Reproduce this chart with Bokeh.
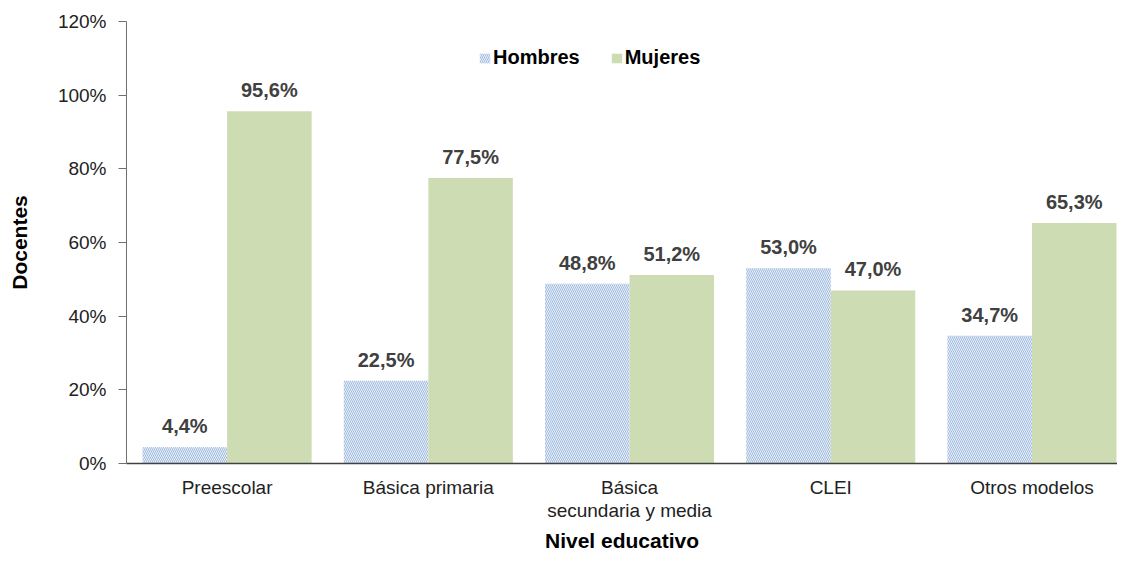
from bokeh.plotting import figure
from bokeh.models import ColumnDataSource, FixedTicker, Legend, LegendItem, Range1d, LabelSet
from bokeh.core.properties import value
from bokeh.embed import file_html
from bokeh.resources import INLINE

categorias = ["Preescolar", "Básica primaria", "Básica\nsecundaria y media", "CLEI", "Otros modelos"]
hombres = [4.4, 22.5, 48.8, 53.0, 34.7]
mujeres = [95.6, 77.5, 51.2, 47.0, 65.3]
y_ticks = [0, 20, 40, 60, 80, 100, 120]

FONT = "Liberation Sans"
BAR_W = 0.42

xs = list(range(len(categorias)))
src_h = ColumnDataSource(dict(x=[i - BAR_W / 2 for i in xs], top=hombres,
                              lab=[f"{v:.1f}%".replace(".", ",") for v in hombres]))
src_m = ColumnDataSource(dict(x=[i + BAR_W / 2 for i in xs], top=mujeres,
                              lab=[f"{v:.1f}%".replace(".", ",") for v in mujeres]))

p = figure(width=1117, height=557, output_backend="svg", toolbar_location=None,
           x_range=Range1d(-0.5, 4.425), y_range=Range1d(0, 120),
           min_border_left=126, min_border_right=0, min_border_top=21, min_border_bottom=94)
p.outline_line_color = None
p.xgrid.grid_line_color = None
p.ygrid.grid_line_color = None

rh = p.vbar(x="x", top="top", width=BAR_W, source=src_h,
            fill_color="#e8eff9", line_color=None,
            hatch_pattern="\\", hatch_color="#a2bbe0", hatch_scale=4, hatch_weight=1)
rm = p.vbar(x="x", top="top", width=BAR_W, source=src_m,
            fill_color="#cddcb2", line_color=None)

for src in (src_h, src_m):
    p.add_layout(LabelSet(x="x", y="top", text="lab", source=src,
                          text_align="center", text_baseline="bottom", y_offset=10,
                          text_font=value(FONT), text_font_style="bold",
                          text_font_size="20px", text_color="#404040"))

# y axis
p.yaxis.ticker = FixedTicker(ticks=y_ticks)
p.yaxis.major_label_overrides = {t: f"{t}%" for t in y_ticks}
p.yaxis.minor_tick_line_color = None
p.yaxis.major_tick_in = 0
p.yaxis.major_tick_out = 8
p.yaxis.major_label_standoff = 12
p.yaxis.axis_line_color = "#707070"
p.yaxis.major_tick_line_color = "#707070"
p.yaxis.major_label_text_font = FONT
p.yaxis.major_label_text_font_size = "19px"
p.yaxis.major_label_text_color = "#222222"
p.yaxis.axis_label = "Docentes"
p.yaxis.axis_label_text_font = FONT
p.yaxis.axis_label_text_font_style = "bold"
p.yaxis.axis_label_text_font_size = "21px"
p.yaxis.axis_label_text_color = "#000000"
p.yaxis.axis_label_standoff = 24

# x axis
p.xaxis.ticker = FixedTicker(ticks=xs)
p.xaxis.major_label_overrides = {i: c for i, c in zip(xs, categorias)}
p.xaxis.minor_tick_line_color = None
p.xaxis.major_tick_line_color = None
p.xaxis.major_tick_in = 0
p.xaxis.major_tick_out = 0
p.xaxis.major_label_standoff = 13
p.xaxis.axis_line_color = "#404040"
p.xaxis.axis_line_width = 1.5
p.xaxis.major_label_text_font = FONT
p.xaxis.major_label_text_font_size = "19px"
p.xaxis.major_label_text_line_height = 1.1
p.xaxis.major_label_text_color = "#222222"
p.xaxis.axis_label = "Nivel educativo"
p.xaxis.axis_label_text_font = FONT
p.xaxis.axis_label_text_font_style = "bold"
p.xaxis.axis_label_text_font_size = "21px"
p.xaxis.axis_label_text_color = "#000000"
p.xaxis.axis_label_standoff = 5

legend = Legend(items=[LegendItem(label="Hombres", renderers=[rh]),
                       LegendItem(label="Mujeres", renderers=[rm])],
                location=(352, 394), orientation="horizontal",
                padding=0, margin=0, spacing=30, label_standoff=2,
                glyph_width=13, glyph_height=12, label_height=20,
                background_fill_alpha=0, border_line_color=None,
                label_text_font=FONT, label_text_font_style="bold",
                label_text_font_size="20px", label_text_color="#000000")
p.add_layout(legend)

open("out.html", "w").write(file_html(p, INLINE))
